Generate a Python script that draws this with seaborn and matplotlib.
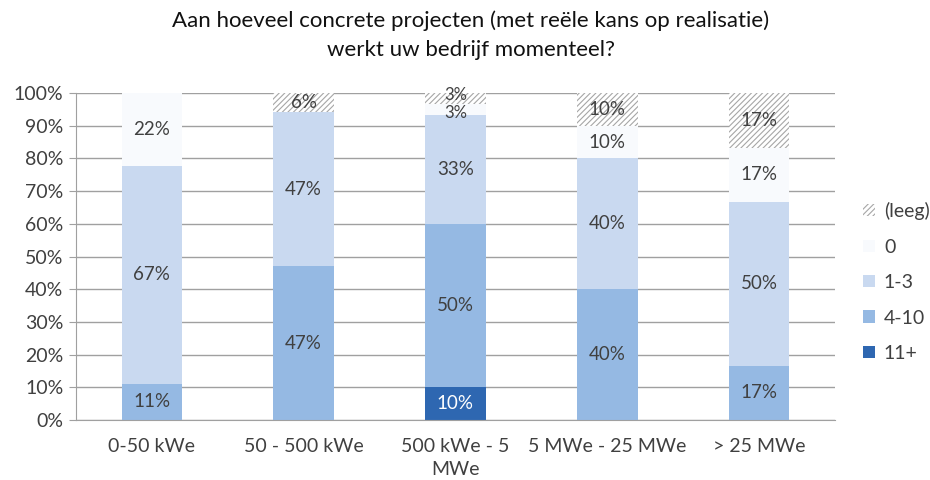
import numpy as np
import pandas as pd
import matplotlib
matplotlib.use('Agg')
import matplotlib.pyplot as plt
import seaborn as sns
from matplotlib.patches import Patch

categories = ['0-50 kWe', '50 - 500 kWe', '500 kWe - 5\nMWe', '5 MWe - 25 MWe', '> 25 MWe']

# percentages per answer group (stacked bottom -> top)
v_11plus = [0, 0, 10.0, 0, 0]
v_4_10 = [11.11, 47.06, 50.0, 40.0, 16.67]
v_1_3 = [66.67, 47.06, 33.33, 40.0, 50.0]
v_0 = [22.22, 0, 3.33, 10.0, 16.67]
v_leeg = [0, 5.88, 3.33, 10.0, 16.67]

series_names = ['11+', '4-10', '1-3', '0', '(leeg)']
series_vals = [v_11plus, v_4_10, v_1_3, v_0, v_leeg]
series_cols = ['#2E67B1', '#95B9E3', '#C9D9F0', '#F8FAFD', 'white']

sns.set_style('white')
plt.rcParams['font.family'] = ['Lato', 'DejaVu Sans']
plt.rcParams['hatch.linewidth'] = 0.8

fig = plt.figure(figsize=(9.3, 4.8), dpi=100)
ax = fig.add_axes([0.0817, 0.125, 0.816, 0.681])

bottom = np.zeros(len(categories))
for name, vals, col in zip(series_names, series_vals, series_cols):
    df = pd.DataFrame({'cat': categories, 'val': vals})
    n_before = len(ax.patches)
    if name == '(leeg)':
        sns.barplot(data=df, x='cat', y='val', bottom=bottom, color=col, width=0.4,
                    saturation=1, ax=ax, hatch='//////', edgecolor='#A6A6A6', linewidth=0)
    else:
        sns.barplot(data=df, x='cat', y='val', bottom=bottom, color=col, width=0.4,
                    saturation=1, ax=ax, linewidth=0)
    bars = ax.patches[n_before:]
    txt_col = 'white' if name == '11+' else '#404040'
    for i, (b, v, btm) in enumerate(zip(bars, vals, bottom)):
        if v > 0:
            y = btm + v / 2
            fs = 13.5
            # the two small 3% labels are squeezed together in the original
            if i == 2 and name == '(leeg)':
                y += 1.2
                fs = 12
            elif i == 2 and name == '0':
                y -= 1.2
                fs = 12
            ax.text(b.get_x() + b.get_width() / 2, y, f'{round(v):.0f}%',
                    ha='center', va='center', fontsize=fs, color=txt_col)
    bottom = bottom + np.array(vals)

ax.set_ylim(0, 100)
ax.set_xlim(-0.5, 4.5)
ax.set_yticks(np.arange(0, 101, 10))
ax.set_yticklabels([f'{t}%' for t in range(0, 101, 10)], fontsize=14, color='#404040')
ax.yaxis.grid(True, color='#A0A0A0', linewidth=1)
ax.set_axisbelow(True)
ax.set_xticks(range(len(categories)))
ax.set_xticklabels(categories, fontsize=14, color='#404040', linespacing=1.45)
ax.set_xticks(np.arange(-0.5, 4.6, 1), minor=True)
ax.tick_params(axis='x', which='major', length=0, pad=13)
ax.tick_params(axis='x', which='minor', length=5, color='#A0A0A0', direction='out')
ax.tick_params(axis='y', length=5, color='#A0A0A0', direction='out', left=True, pad=4)
ax.set_xlabel('')
ax.set_ylabel('')
for s in ['top', 'right']:
    ax.spines[s].set_visible(False)
for s in ['left', 'bottom']:
    ax.spines[s].set_color('#A0A0A0')

fig.text(0.506, 0.957, 'Aan hoeveel concrete projecten (met reële kans op realisatie)',
         ha='center', va='center', fontsize=16, color='#111111')
fig.text(0.506, 0.895, 'werkt uw bedrijf momenteel?',
         ha='center', va='center', fontsize=16, color='#111111')

handles = []
for name, col in zip(series_names[::-1], series_cols[::-1]):
    if name == '(leeg)':
        handles.append(Patch(facecolor='white', hatch='//////', edgecolor='#A6A6A6', linewidth=0, label=name))
    else:
        handles.append(Patch(facecolor=col, linewidth=0, label=name))
leg = fig.legend(handles=handles, loc='center left', bbox_to_anchor=(0.918, 0.4125),
                 frameon=False, fontsize=14, handlelength=0.6, handleheight=0.6,
                 labelspacing=0.95, handletextpad=0.45, borderpad=0)
for t in leg.get_texts():
    t.set_color('#404040')

fig.savefig('out.png', dpi=100)
